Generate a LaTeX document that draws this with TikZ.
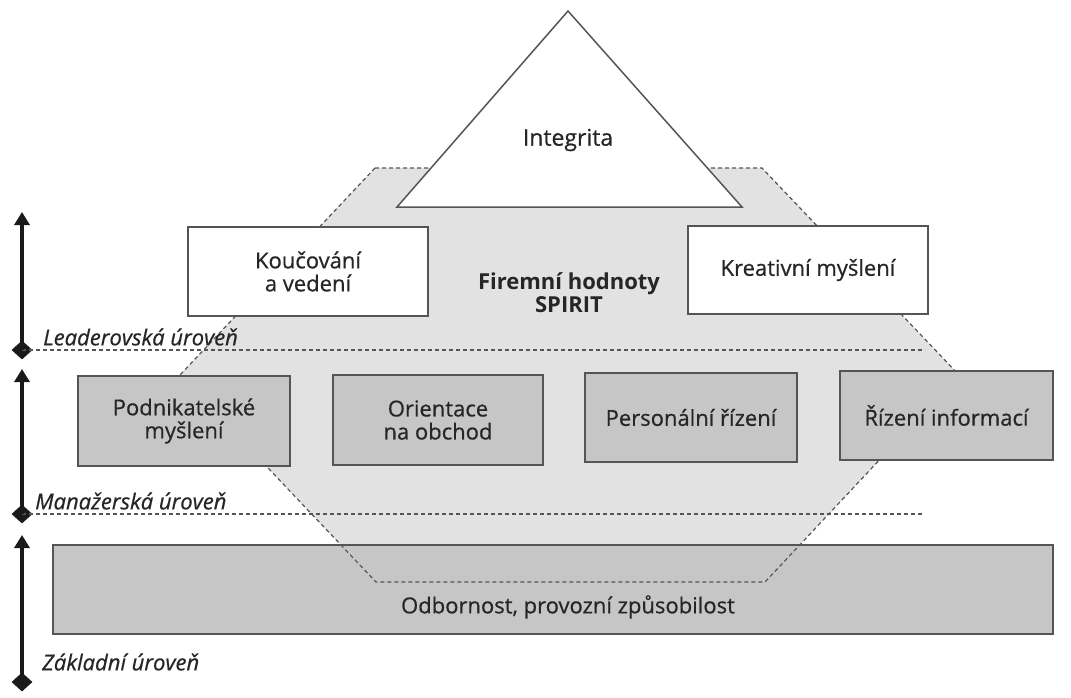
\documentclass[tikz,border=0pt]{standalone}
\usepackage{fontspec}
\setmainfont{Open Sans}[FakeBold=0.6]
\newfontfamily\boldfont{Open Sans Bold}
\usetikzlibrary{arrows.meta,shapes.geometric}
\definecolor{ln}{HTML}{555555}
\definecolor{hexfill}{HTML}{E2E2E2}
\definecolor{boxgray}{HTML}{C6C6C6}
\definecolor{txt}{HTML}{262626}
\definecolor{arrc}{HTML}{1A1A1A}
\begin{document}
\begin{tikzpicture}[x=1pt,y=-1pt,
  boxtext/.style={text=txt,align=center,font=\fontsize{22}{23}\selectfont},
  whitebox/.style={boxtext,draw=ln,fill=white,line width=1.5pt,inner sep=0pt},
  graybox/.style={boxtext,draw=ln,fill=boxgray,line width=1.5pt,inner sep=0pt},
  levellabel/.style={text=txt,anchor=west,inner sep=0pt,font=\fontsize{22}{24}\selectfont\itshape},
  dashline/.style={draw=ln,line width=1.2pt,dash pattern=on 4pt off 3pt},
  levelarrow/.style={draw=arrc,line width=3.3pt,-{Triangle[length=13pt,width=15pt]}},
  marker/.style={diamond,fill=arrc,inner sep=0pt,minimum width=21pt,minimum height=19pt},
]
\useasboundingbox (0,0) rectangle (1071,697);
\fill[white] (0,0) rectangle (1071,697);

% hexagon of company values
\draw[dashline,fill=hexfill] (375,168) -- (762,168) -- (959,375) -- (765,582) -- (376,582) -- (180,375) -- cycle;

% level dashed lines
\node[marker] (dlead) at (22,350) {};
\node[marker] (dman) at (22,514) {};
\node[marker] (dbase) at (22,682) {};
\coordinate (elead) at (925,350);
\coordinate (eman) at (922,514);
\draw[dashline] (dlead.center) -- (elead);
\draw[dashline] (dman.center) -- (eman);

% level arrows
\coordinate (tlead) at (22,212);
\coordinate (tman) at (22,369);
\coordinate (tbase) at (22,535);
\draw[levelarrow] (dlead.center) -- (tlead);
\draw[levelarrow] (dman.center) -- (tman);
\draw[levelarrow] (dbase.center) -- (tbase);

\node[levellabel] (llead) at (43,337) {Leaderovská úroveň};
\node[levellabel] (lman) at (35,501) {Manažerská úroveň};
\node[levellabel] (lbase) at (42,662) {Základní úroveň};

% triangle
\draw[draw=ln,fill=white,line width=1.5pt] (568,11) -- (742,207) -- (397,207) -- cycle;
\node[boxtext,font=\fontsize{23}{24}\selectfont] (integ) at (568,140) {Integrita};

% leader level boxes
\node[whitebox,minimum width=240pt,minimum height=89pt] (kouc) at (308,271.5) {Koučování\\a vedení};
\node[whitebox,minimum width=240pt,minimum height=88pt] (krea) at (808,270) {Kreativní myšlení};
\node[boxtext,font=\fontsize{22}{23}\boldfont] (spirit) at (569,293) {Firemní hodnoty\\SPIRIT};

% manager level boxes
\node[graybox,minimum width=212pt,minimum height=90pt] (podn) at (184,421) {Podnikatelské\\myšlení};
\node[graybox,minimum width=210pt,minimum height=90pt] (orie) at (438,420) {Orientace\\na obchod};
\node[graybox,minimum width=212pt,minimum height=89pt] (pers) at (691,417.5) {Personální řízení};
\node[graybox,minimum width=213pt,minimum height=89pt] (rize) at (946.5,415.5) {Řízení informací};

% base level
\node[draw=ln,fill=boxgray,line width=1.5pt,inner sep=0pt,minimum width=1000pt,minimum height=89pt] (odb) at (553,589.5) {};
\begin{scope}
  \clip (odb.north west) rectangle (odb.south east);
  \draw[dashline] (375,168) -- (762,168) -- (959,375) -- (765,582) -- (376,582) -- (180,375) -- cycle;
\end{scope}
\node[boxtext] (odbt) at (568,607) {Odbornost, provozní způsobilost};
\end{tikzpicture}
\end{document}
